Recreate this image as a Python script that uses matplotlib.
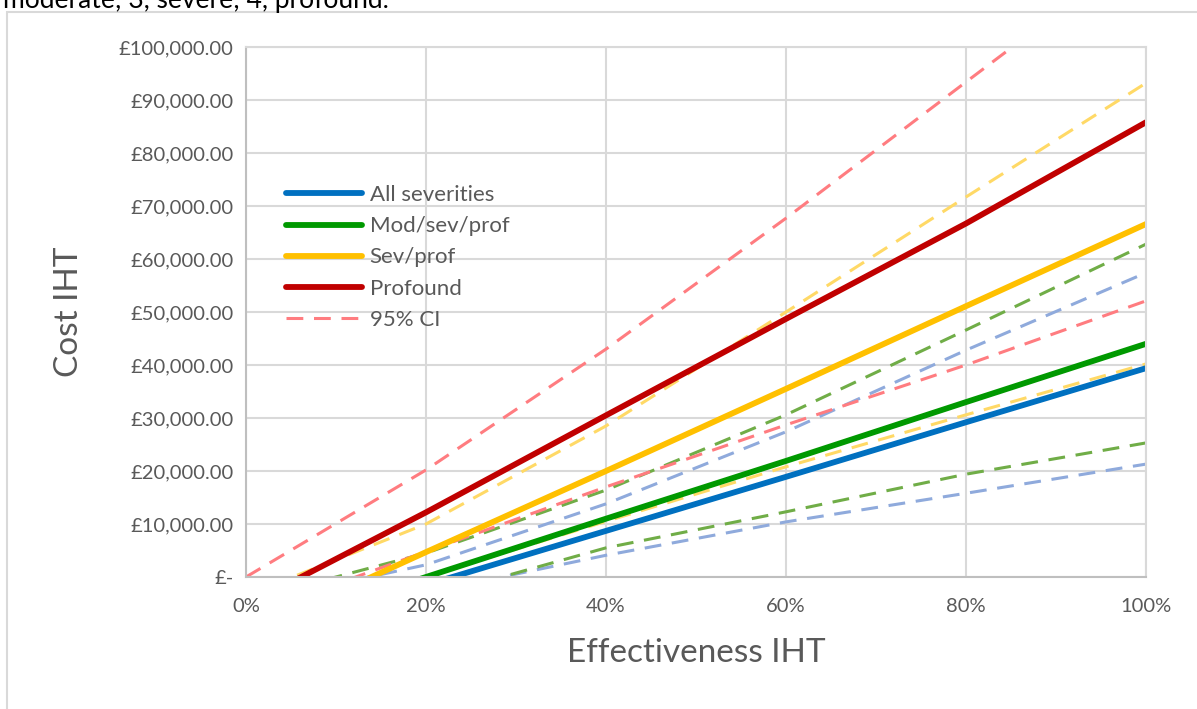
import matplotlib.pyplot as plt
from matplotlib.patches import Rectangle

# effectiveness sample points (0-1), cost values at each point
eff = [0.0, 0.2, 0.4, 0.6, 0.8, 1.0]

all_sev = [-11500, -1500, 8700, 18900, 29200, 39400]
all_sev_lo = [-14000, -3000, 4100, 10400, 15800, 21300]
all_sev_hi = [-5000, 2300, 13800, 27400, 42800, 57400]

mod_sev = [-11000, 0, 11000, 21900, 33000, 44000]
mod_sev_lo = [-13500, -4000, 5500, 12300, 19400, 25300]
mod_sev_hi = [-4500, 4500, 16400, 30600, 46600, 62800]

sev_prof = [-10800, 4700, 20000, 35500, 51100, 66600]
sev_prof_lo = [-10000, 0, 10500, 20800, 30600, 40200]
sev_prof_hi = [-3500, 10000, 28500, 50000, 71700, 93200]

profound = [-5400, 12200, 30500, 48700, 66700, 85800]
profound_lo = [-7500, 4800, 17000, 28700, 40000, 52100]
profound_hi = [0, 20200, 43000, 67700, 93400, 119000]

y_ticks = list(range(0, 100001, 10000))
x_ticks = [0, 0.2, 0.4, 0.6, 0.8, 1.0]

font = ['Lato', 'DejaVu Sans']
plt.rcParams['font.family'] = font

fig = plt.figure(figsize=(11.97, 7.09), dpi=100)
ax = fig.add_axes([246 / 1197, 1 - 577 / 709, 900 / 1197, 530 / 709])

# chart frame (only left + top show in the crop)
fig.patches.append(Rectangle((7 / 1197, -0.1), 1.2, (709 - 12) / 709 + 0.1,
                             transform=fig.transFigure, fill=False,
                             edgecolor='#d9d9d9', linewidth=1.5))
# caption line from the page above, cut off by the crop as in the source
fig.text(3 / 1197, 1 - 8 / 709, 'moderate; 3, severe; 4, profound.',
         fontsize=19, color='#000000', va='baseline', ha='left')

dash = (0, (5.5, 3.5))
# dashed CI lines
ax.plot(eff, all_sev_lo, color='#8faadc', lw=2.2, ls=dash)
ax.plot(eff, all_sev_hi, color='#8faadc', lw=2.2, ls=dash)
ax.plot(eff, mod_sev_lo, color='#70ad47', lw=2.2, ls=dash)
ax.plot(eff, mod_sev_hi, color='#70ad47', lw=2.2, ls=dash)
ax.plot(eff, sev_prof_lo, color='#ffd966', lw=2.2, ls=dash)
ax.plot(eff, sev_prof_hi, color='#ffd966', lw=2.2, ls=dash)
ax.plot(eff, profound_lo, color='#ff7c80', lw=2.2, ls=dash)
ax.plot(eff, profound_hi, color='#ff7c80', lw=2.2, ls=dash)

# main lines
ax.plot(eff, all_sev, color='#0070c0', lw=4.2, solid_capstyle='round', label='All severities')
ax.plot(eff, mod_sev, color='#009900', lw=4.2, solid_capstyle='round', label='Mod/sev/prof')
ax.plot(eff, sev_prof, color='#ffc000', lw=4.2, solid_capstyle='round', label='Sev/prof')
ax.plot(eff, profound, color='#c00000', lw=4.2, solid_capstyle='round', label='Profound')
ax.plot([], [], color='#ff7c80', lw=2.2, ls=dash, label='95% CI')

ax.set_xlim(0, 1)
ax.set_ylim(0, 100000)
ax.set_xticks(x_ticks)
ax.set_xticklabels([f'{int(round(v * 100))}%' for v in x_ticks])
ax.set_yticks(y_ticks)
ax.set_yticklabels(['£-'] + [f'£{v:,.2f}' for v in y_ticks[1:]])
ax.grid(True, color='#d9d9d9', lw=1.5)
ax.set_axisbelow(True)
for s in ['top', 'right']:
    ax.spines[s].set_color('#d9d9d9')
    ax.spines[s].set_linewidth(1.5)
for s in ['left', 'bottom']:
    ax.spines[s].set_color('#bfbfbf')
    ax.spines[s].set_linewidth(1.5)
ax.tick_params(length=0, labelsize=14.5, colors='#595959', pad=15)
ax.tick_params(axis='y', pad=9)

ax.set_xlabel('Effectiveness IHT', fontsize=24, color='#595959', labelpad=17)
ax.set_ylabel('Cost IHT', fontsize=24, color='#595959', labelpad=25)

leg = ax.legend(loc='upper left', bbox_to_anchor=(0.035, 0.756), frameon=False,
                fontsize=16, handlelength=3.4, handletextpad=0.35, labelspacing=0.5,
                borderaxespad=0)
for t in leg.get_texts():
    t.set_color('#595959')

fig.savefig('out.png', dpi=100)
